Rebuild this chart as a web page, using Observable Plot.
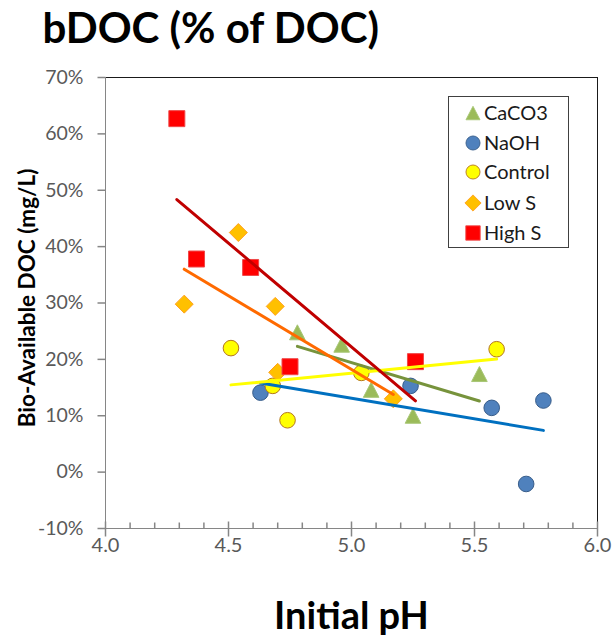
<!DOCTYPE html>
<html><head><meta charset="utf-8">
<script src="https://cdn.jsdelivr.net/npm/d3@7"></script>
<script src="https://cdn.jsdelivr.net/npm/@observablehq/plot@0.6"></script>
<style>
html,body{margin:0;padding:0;background:#fff;}
#wrap{position:relative;width:615px;height:639px;overflow:hidden;font-family:Lato,sans-serif;}
#legend{position:absolute;left:448px;top:96px;width:121px;height:152px;border:1px solid #404040;background:#fff;box-sizing:border-box;}
#legend svg{position:absolute;left:0;top:0;}
</style></head><body><div id="wrap"><div id="legend"></div></div>
<script>
// ---- data ----
const seriesNames = ["CaCO3", "NaOH", "Control", "Low S", "High S"];
const caco3X = [4.78, 4.96, 5.08, 5.25, 5.52];
const caco3Y = [24.8, 22.6, 14.6, 10.0, 17.4];
const naohX = [4.63, 5.24, 5.57, 5.78, 5.71];
const naohY = [14.1, 15.3, 11.4, 12.7, -2.1];
const controlX = [4.51, 4.68, 4.74, 5.04, 5.59];
const controlY = [22.0, 15.3, 9.2, 17.6, 21.8];
const lowSX = [4.32, 4.54, 4.69, 4.70, 5.17];
const lowSY = [29.8, 42.5, 29.4, 17.7, 13.0];
const highSX = [4.29, 4.37, 4.59, 4.75, 5.26];
const highSY = [62.7, 37.8, 36.3, 18.7, 19.6];
const xTicks = [4.0, 4.5, 5.0, 5.5, 6.0];
const xMinorTicks = [4.1, 4.2, 4.3, 4.4, 4.6, 4.7, 4.8, 4.9, 5.1, 5.2, 5.3, 5.4, 5.6, 5.7, 5.8, 5.9];
const yTicks = [-10, 0, 10, 20, 30, 40, 50, 60, 70];
const titleText = "bDOC (% of DOC)";
const xLabel = "Initial pH";
const yLabel = "Bio-Available DOC (mg/L)";

// ---- symbols ----
const triSym = {draw(c){ c.moveTo(0,-7.5); c.lineTo(7.8,7.5); c.lineTo(-7.8,7.5); c.closePath(); }};
const diaSym = {draw(c){ c.moveTo(0,-9); c.lineTo(9,0); c.lineTo(0,9); c.lineTo(-9,0); c.closePath(); }};
const sqSym = {draw(c){ c.moveTo(-8,-8); c.lineTo(8,-8); c.lineTo(8,8); c.lineTo(-8,8); c.closePath(); }};
const circSym = {draw(c){ c.moveTo(7.8,0); c.arc(0,0,7.8,0,2*Math.PI); }};
const majorXTick = {draw(c){ c.moveTo(0,-7); c.lineTo(0,8); }};
const minorXTick = {draw(c){ c.moveTo(0,-6); c.lineTo(0,0); }};
const yTickSym = {draw(c){ c.moveTo(-8,0); c.lineTo(0,0); }};

const styles = [
  {name: "CaCO3", xs: caco3X, ys: caco3Y, sym: triSym, fill: "#9BBB59", stroke: "#A8C776", line: "#77933C"},
  {name: "NaOH", xs: naohX, ys: naohY, sym: circSym, fill: "#4F81BD", stroke: "#385D8A", line: "#0070C0"},
  {name: "Control", xs: controlX, ys: controlY, sym: circSym, fill: "#FFFF00", stroke: "#B4761E", line: "#FFFF00"},
  {name: "Low S", xs: lowSX, ys: lowSY, sym: diaSym, fill: "#FFC000", stroke: "#FFA020", line: "#FF6A00"},
  {name: "High S", xs: highSX, ys: highSY, sym: sqSym, fill: "#FF0000", stroke: "#F04848", line: "#C00000"}
];
const rows = s => s.xs.map((x, i) => ({series: s.name, x, y: s.ys[i]}));

const dotMarks = styles.map(s => Plot.dot(rows(s), {x: "x", y: "y", symbol: s.sym, fill: s.fill, stroke: s.stroke, strokeWidth: 1}));
const lineMarks = styles.map(s => Plot.linearRegressionY(rows(s), {x: "x", y: "y", stroke: s.line, strokeWidth: 3, ci: 0}));

const chart = Plot.plot({
  width: 615, height: 639,
  marginLeft: 105, marginRight: 18, marginTop: 77, marginBottom: 111,
  x: {domain: [4, 6]},
  y: {domain: [-10, 70]},
  style: {fontFamily: "Lato, sans-serif", background: "transparent", overflow: "visible"},
  marks: [
    Plot.ruleY([70], {stroke: "#1a1a1a"}),
    Plot.ruleX([6], {stroke: "#1a1a1a"}),
    Plot.ruleX([4], {stroke: "#868686"}),
    Plot.ruleY([-10], {stroke: "#868686"}),
    Plot.dot(xTicks, {x: d => d, y: () => -10, symbol: majorXTick, fill: "none", stroke: "#868686"}),
    Plot.dot(xMinorTicks, {x: d => d, y: () => -10, symbol: minorXTick, fill: "none", stroke: "#868686"}),
    Plot.dot(yTicks, {x: () => 4, y: d => d, symbol: yTickSym, fill: "none", stroke: "#868686"}),
    Plot.axisX({ticks: xTicks, tickSize: 0, tickPadding: 9, tickFormat: d => d.toFixed(1), fontSize: 20, color: "#595959", label: null}),
    Plot.axisY({ticks: yTicks, tickSize: 0, tickPadding: 22, tickFormat: d => d + "%", fontSize: 19.5, color: "#595959", label: null}),
    ...dotMarks,
    ...lineMarks,
    Plot.text([titleText], {text: d => d, frameAnchor: "top-left", textAnchor: "start", lineAnchor: "bottom", dx: -63, dy: -35, fontSize: 42, fontWeight: "bold", fill: "#000"}),
    Plot.text([xLabel], {text: d => d, frameAnchor: "bottom", textAnchor: "middle", lineAnchor: "bottom", dy: 100, fontSize: 38, fontWeight: "bold", fill: "#000"}),
    Plot.text([yLabel], {text: d => d, frameAnchor: "left", textAnchor: "middle", lineAnchor: "bottom", rotate: -90, dx: -71, dy: -5, fontSize: 22.5, fontWeight: "bold", fill: "#000"})
  ]
});
document.getElementById("wrap").prepend(chart);

// ---- legend ----
const lg = d3.select("#legend").append("svg").attr("width", 120).attr("height", 150);
const itemY = [16, 46, 75, 106, 136];
styles.forEach((s, i) => {
  const g = lg.append("g").attr("transform", `translate(24,${itemY[i]})`);
  const p = d3.path(); s.sym.draw(p);
  g.append("path").attr("d", p.toString()).attr("fill", s.fill).attr("stroke", s.stroke).attr("transform", "scale(0.9)");
  lg.append("text").attr("x", 35).attr("y", itemY[i] + 7).attr("font-size", 20).attr("font-family", "Lato, sans-serif").attr("fill", "#1a1a1a").text(seriesNames[i]);
});
</script></body></html>
